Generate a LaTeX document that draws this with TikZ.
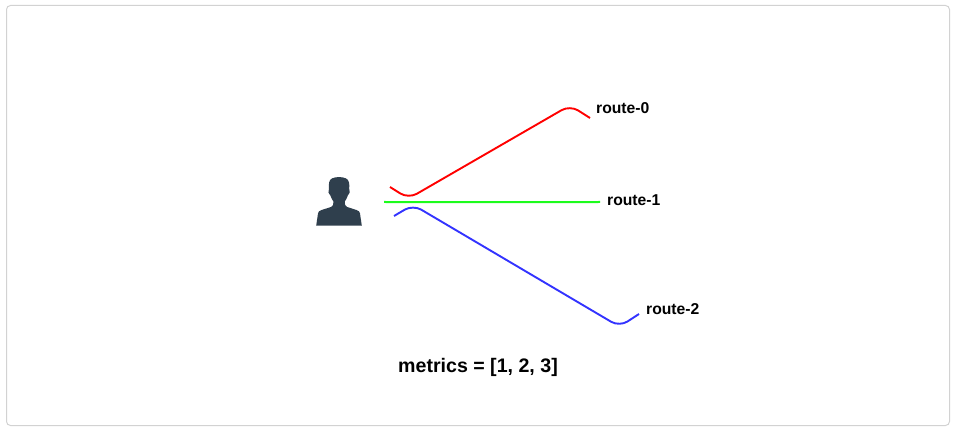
\documentclass[tikz,border=0pt]{standalone}
\usepackage{fontspec}
\setmainfont{Liberation Sans}
\definecolor{iconc}{HTML}{2F3F4D}
\definecolor{framec}{HTML}{D2D2D2}
\definecolor{routegreen}{HTML}{1CFC1C}
\tikzset{
  routelabel/.style={inner sep=0pt,anchor=west,font=\bfseries\fontsize{15.7}{18}\selectfont,text=black},
  routeline/.style={line width=1.9pt,rounded corners=9.5pt,line join=round},
}
\begin{document}
\begin{tikzpicture}[x=1pt,y=-1pt]
\useasboundingbox (0,0) rectangle (954,433);
\node[draw=framec,line width=1pt,rounded corners=4pt,minimum width=943pt,minimum height=420pt,inner sep=0pt] (frame) at (478,215.5) {};
% person icon
\fill[iconc] (316.2,225.6) -- (318,213.5)
  .. controls (318.3,211.5) and (319.5,210.6) .. (321.5,210)
  -- (331,207) .. controls (333.2,206.2) and (333.6,204.5) .. (333.4,201.5)
  .. controls (332,199.5) and (331,197.5) .. (330.4,195.5)
  .. controls (328.5,194.5) and (327.6,191) .. (329,188.5)
  .. controls (328.6,184) and (328.8,180) .. (332,178.4)
  .. controls (336,176.6) and (342,176.6) .. (346,178.4)
  .. controls (349.2,180) and (349.6,184) .. (349.2,188.5)
  .. controls (350.6,191) and (349.7,194.5) .. (347.8,195.5)
  .. controls (347.2,197.5) and (346.2,199.5) .. (344.8,201.5)
  .. controls (344.6,204.5) and (345,206.2) .. (347.2,207)
  -- (356.5,210) .. controls (358.5,210.6) and (359.7,211.5) .. (360,213.5)
  -- (361.8,225.6) -- cycle;
% route labels
\node[routelabel] (r0) at (596,108.3) {route-0};
\node[routelabel] (r1) at (607,200.3) {route-1};
\node[routelabel] (r2) at (646,309.3) {route-2};
\node[inner sep=0pt,font=\bfseries\fontsize{19.6}{22}\selectfont,text=black] (metrics) at (478,367) {metrics = [1, 2, 3]};
% route lines
\coordinate (rs) at (390,187);
\coordinate (ra) at (408.5,198.6);
\coordinate (rb) at (570,105.3);
\coordinate (re) at (590,118);
\draw[routeline,draw=red] (rs) -- (ra) -- (rb) -- (re);
\coordinate (gs) at (384,202);
\coordinate (gm) at (492,202.02);
\coordinate (ge) at (600,202);
\draw[line width=2pt,draw=routegreen] (gs) -- (gm) -- (ge);
\coordinate (bs) at (394,216);
\coordinate (ba) at (413,204.8);
\coordinate (bb) at (619.5,326.7);
\coordinate (be) at (639,314);
\draw[routeline,draw=blue!80!white] (bs) -- (ba) -- (bb) -- (be);
\end{tikzpicture}
\end{document}
